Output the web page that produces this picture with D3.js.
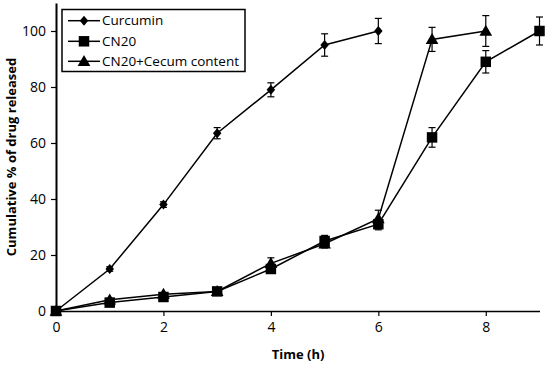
<!DOCTYPE html>
<html><head><meta charset="utf-8">
<script src="https://cdn.jsdelivr.net/npm/d3@7"></script>
<style>body{margin:0;background:#fff}svg{display:block}text{font-family:"Open Sans",sans-serif}</style>
</head><body><svg id="c" width="550" height="365"></svg>
<script>
const xTicks = [0,2,4,6,8];
const yTicks = [0,20,40,60,80,100];
const seriesNames = ["Curcumin","CN20","CN20+Cecum content"];
const curcuminT = [0,1,2,3,4,5,6];
const curcuminV = [0,15,38,63.5,79,95,100];
const curcuminE = [0.5,0.8,1,2,2.5,4,4.5];
const cn20T = [0,1,2,3,4,5,6,7,8,9];
const cn20V = [0,3,5,7,15,25,31,62,89,100];
const cn20E = [0.5,0.5,0.5,0.5,1.5,2,2,3.5,4,5];
const cecumT = [0,1,2,3,4,5,6,7,8];
const cecumV = [0,4,6,7,17,24,33,97,100];
const cecumE = [0.5,0.5,0.5,0.5,2,1.5,3,4.3,5.5];

const svg = d3.select("#c");
const x = d3.scaleLinear().domain([0,9]).range([56,539.5]);
const y = d3.scaleLinear().domain([0,110]).range([311,3]);

const xa = svg.append("g").attr("transform","translate(0,311)")
  .call(d3.axisBottom(x).tickValues(xTicks).tickSize(5).tickSizeOuter(0).tickPadding(6));
const ya = svg.append("g").attr("transform","translate(56,0)")
  .call(d3.axisLeft(y).tickValues(yTicks).tickSize(5).tickSizeOuter(0).tickPadding(5));
[xa,ya].forEach(a=>{
  a.selectAll("path").attr("stroke","#000").attr("stroke-width",1.5);
  a.selectAll("line").attr("stroke","#000").attr("stroke-width",1.2);
  a.selectAll("text").attr("font-size",14).attr("fill","#000").style("font-family","Open Sans");
});
ya.selectAll("path").attr("stroke-width",2);

svg.append("text").attr("x",298).attr("y",359).attr("text-anchor","middle")
  .attr("font-size",13).attr("font-weight","bold").text("Time (h)");
svg.append("text").attr("transform","translate(16,157) rotate(-90)").attr("text-anchor","middle")
  .attr("font-size",13).attr("font-weight","bold").text("Cumulative % of drug released");

const shapes = [d3.symbolSquare, d3.symbolSquare, d3.symbolTriangle];
const sizes = [50,110,70];
const xf = [" rotate(45) scale(0.85,1)".replace(" rotate(45) scale(0.85,1)"," scale(0.85,1) rotate(45)"),"",""];
const dy = [0,0,1];
const data = [
  curcuminT.map((t,i)=>({t,v:curcuminV[i],e:curcuminE[i]})),
  cn20T.map((t,i)=>({t,v:cn20V[i],e:cn20E[i]})),
  cecumT.map((t,i)=>({t,v:cecumV[i],e:cecumE[i]}))
];
const line = d3.line().x(d=>x(d.t)).y(d=>y(d.v));
const sym = (k)=>d3.symbol().type(shapes[k]).size(sizes[k])();

data.forEach((ds,k)=>{
  const g = svg.append("g");
  g.append("path").datum(ds).attr("d",line).attr("fill","none").attr("stroke","#000").attr("stroke-width",1.5);
  ds.forEach(d=>{
    const cx=x(d.t), y1=y(d.v+d.e), y2=y(d.v-d.e);
    g.append("line").attr("x1",cx).attr("x2",cx).attr("y1",y1).attr("y2",y2).attr("stroke","#000").attr("stroke-width",1.2);
    [y1,y2].forEach(yy=>g.append("line").attr("x1",cx-3.5).attr("x2",cx+3.5).attr("y1",yy).attr("y2",yy).attr("stroke","#000").attr("stroke-width",1.2));
  });
  g.selectAll(".m").data(ds).join("path")
    .attr("d",sym(k)).attr("transform",d=>`translate(${x(d.t)},${y(d.v)+dy[k]})${xf[k]}`).attr("fill","#000");
});

const lg = svg.append("g");
lg.append("rect").attr("x",62).attr("y",9.5).attr("width",183).attr("height",62).attr("fill","#fff").attr("stroke","#000").attr("stroke-width",1.5);
const rows=[20.7,41.3,61.3];
seriesNames.forEach((n,k)=>{
  lg.append("line").attr("x1",68).attr("x2",100).attr("y1",rows[k]).attr("y2",rows[k]).attr("stroke","#000").attr("stroke-width",1.5);
  lg.append("path").attr("d",sym(k)).attr("transform",`translate(84,${rows[k]+dy[k]})${xf[k]}`).attr("fill","#000");
  lg.append("text").attr("x",102).attr("y",rows[k]).attr("dy","0.35em").attr("font-size",13.5).text(n);
});
</script></body></html>
